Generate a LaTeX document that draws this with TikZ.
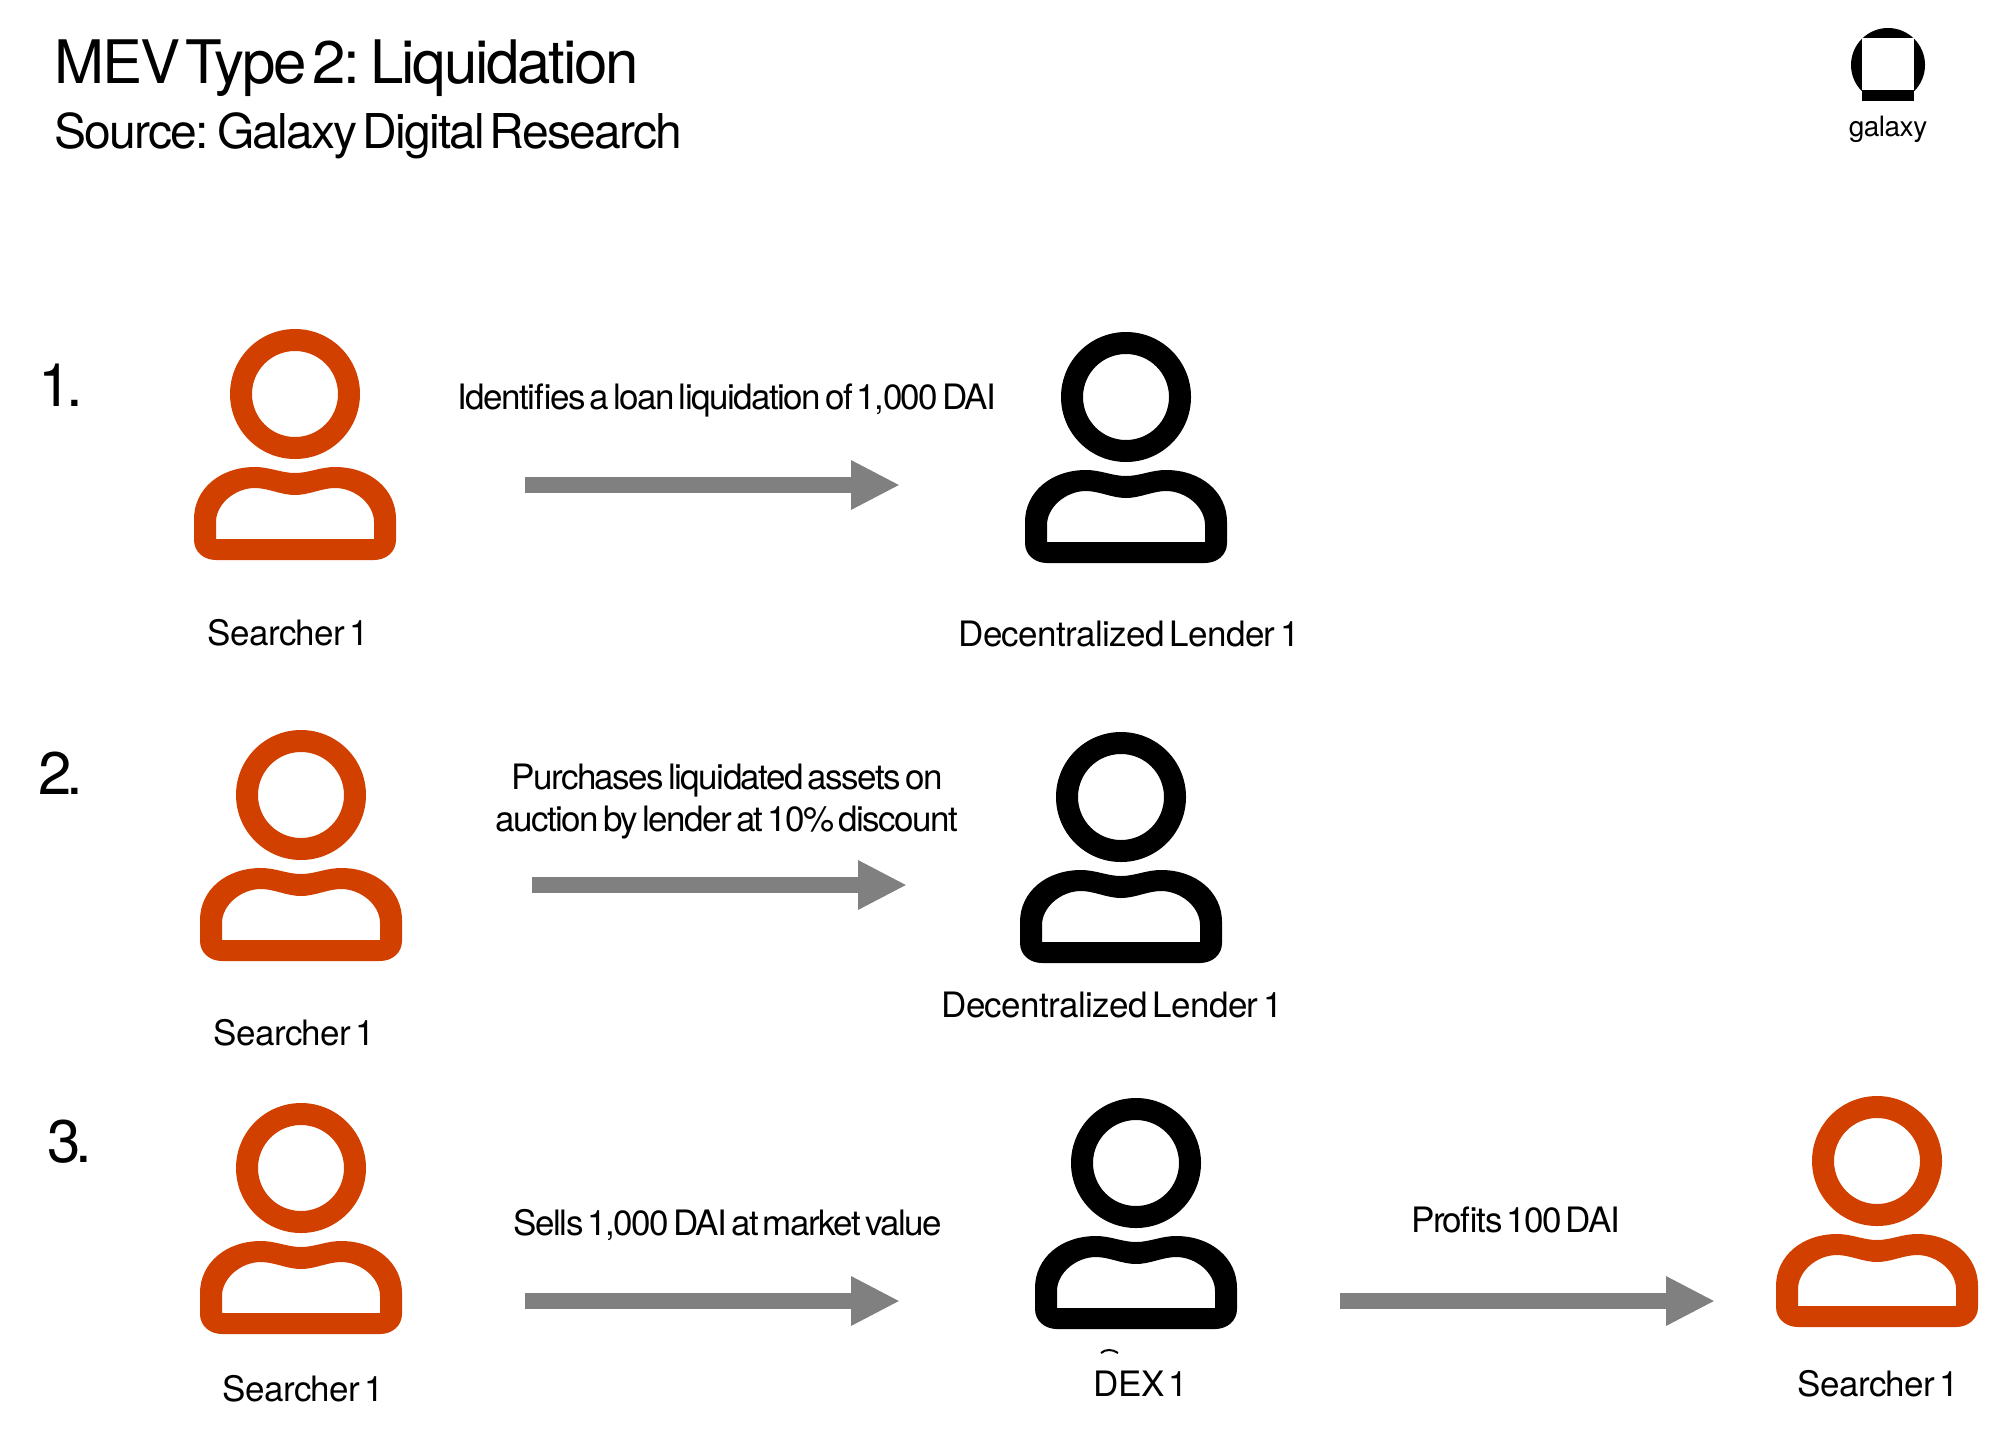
\documentclass[tikz,border=0pt]{standalone}
\usepackage{fontspec}
\setmainfont{TeX Gyre Heros}[LetterSpace=-4.4,WordSpace=0.5]
\newfontfamily\headfont{TeX Gyre Heros}[LetterSpace=-3.7,WordSpace=0.4]
\newfontfamily\whofont{TeX Gyre Heros}[LetterSpace=-1.7,WordSpace=0.5]
\newfontfamily\numfont{TeX Gyre Heros}[LetterSpace=-9]
\usetikzlibrary{arrows.meta}
\definecolor{searcher}{HTML}{D24000}
\definecolor{flowgrey}{HTML}{808080}

\begin{document}
\begin{tikzpicture}[
  x=0.5pt, y=-0.5pt,
  font=\fontsize{17.5}{21}\selectfont,
  person/.style={minimum width=102pt, minimum height=116pt, inner sep=0pt, outer sep=0pt,
    path picture={
      \begin{scope}[shift={(path picture bounding box.center)}]
        \fill[#1, even odd rule] (0,-50.5) circle[radius=65] (0,-50.5) circle[radius=43]
          (-101,74.5) .. controls (-101,44.5) and (-75,22.5) .. (-40,22.5)
          .. controls (-25,22.5) and (-14,28.5) .. (0,28.5)
          .. controls (14,28.5) and (25,22.5) .. (40,22.5)
          .. controls (75,22.5) and (101,44.5) .. (101,74.5)
          -- (101,95.5) .. controls (101,107.5) and (91,115.5) .. (79,115.5)
          -- (-79,115.5) .. controls (-91,115.5) and (-101,107.5) .. (-101,95.5) -- cycle
          (-79,94.5) -- (-79,77.5) .. controls (-79,59.5) and (-60,43.5) .. (-40,43.5)
          .. controls (-27,43.5) and (-14,50.5) .. (0,50.5)
          .. controls (14,50.5) and (27,43.5) .. (40,43.5)
          .. controls (60,43.5) and (79,59.5) .. (79,77.5) -- (79,94.5) -- cycle;
      \end{scope}}},
  tag/.style={inner sep=0pt, align=center},
  who/.style={inner sep=0pt, font=\fontsize{17.5}{21}\whofont},
  stepnum/.style={inner sep=0pt, font=\fontsize{30}{36}\numfont},
  flow/.style={draw=flowgrey, line width=8pt, -{Triangle[length=24.5pt, width=23pt]}}
]
\useasboundingbox (0,0) rectangle (2000,1435);

\node[inner sep=0pt, anchor=base west, font=\fontsize{30}{36}\headfont] (title) at (54,83) {MEV Type 2: Liquidation};
\node[inner sep=0pt, anchor=base west, font=\fontsize{24}{29}\headfont] (source) at (54,148) {Source: Galaxy Digital Research};

\begin{scope}
  \clip (1840,20) rectangle (1940,90);
  \fill (1888,65) circle[radius=37];
\end{scope}
\fill[white] (1862,38) rectangle (1914,90);
\fill (1862,90) rectangle (1914,101);
\node[who, font=\fontsize{14}{17}\whofont] (logo) at (1888,129) {galaxy};

\node[stepnum] (n1) at (61,385) {1.};
\node[person=searcher] (s1) at (295,444.5) {};
\node[person=black] (l1) at (1126,447.5) {};
\node[who] (s1t) at (288.5,633) {Searcher 1};
\node[who] (l1t) at (1129,634) {Decentralized Lender 1};
\node[tag] (a1t) at (727,400.5) {Identifies a loan liquidation of 1,000 DAI};
\draw[flow, shorten <=64pt, shorten >=62pt] ([yshift=-20.25pt]s1.east) -- ([yshift=-18.75pt]l1.west);

\node[stepnum] (n2) at (61,773) {2.};
\node[person=searcher] (s2) at (301,845.5) {};
\node[person=black] (l2) at (1121,847.5) {};
\node[who] (s2t) at (294.5,1033) {Searcher 1};
\node[who] (l2t) at (1112,1005) {Decentralized Lender 1};
\node[tag] (a2t) at (727,801.5) {Purchases liquidated assets on\\auction by lender at 10\% discount};
\draw[flow, shorten <=64.5pt, shorten >=56pt] ([yshift=-19.75pt]s2.east) -- ([yshift=-18.75pt]l2.west);

\node[stepnum] (n3) at (69.5,1142) {3.};
\node[person=searcher] (s3) at (301,1218.5) {};
\node[person=black] (d3) at (1136,1213.5) {};
\node[person=searcher] (f3) at (1877,1211.5) {};
\node[who] (s3t) at (303.5,1389) {Searcher 1};
\node[who] (d3t) at (1141,1384) {DEX 1};
\node[who] (f3t) at (1878.5,1384) {Searcher 1};
\node[tag] (a3t) at (728,1224.5) {Sells 1,000 DAI at market value};
\node[tag] (b3t) at (1515.5,1220) {Profits 100 DAI};
\draw[flow, shorten <=61pt, shorten >=67pt] ([yshift=-41.25pt]s3.east) -- ([yshift=-43.75pt]d3.west);
\draw[flow, shorten <=51pt, shorten >=30pt] ([yshift=-43.75pt]d3.east) -- ([yshift=-44.75pt]f3.west);
\draw[line width=1pt] (1101,1353) .. controls (1105,1349) and (1113,1349) .. (1118,1353);
\end{tikzpicture}
\end{document}
